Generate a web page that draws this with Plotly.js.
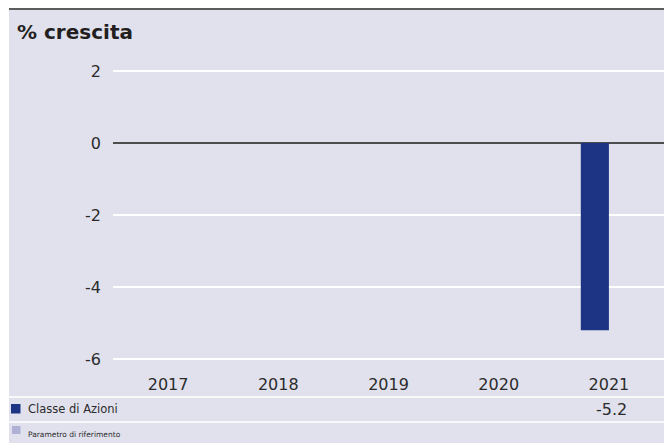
<!DOCTYPE html>
<html>
<head>
<meta charset="utf-8">
<script src="https://cdn.plot.ly/plotly-3.0.1.min.js"></script>
<style>
  html, body { margin: 0; padding: 0; background: #ffffff; }
  #chart { position: absolute; left: 9px; top: 8px; width: 655px; height: 433px; border-top: 2px solid #5c5c5c; }
</style>
</head>
<body>
<div id="chart"></div>
<script>
// ---- data ----
const years = ['2017', '2018', '2019', '2020', '2021'];
const classeDiAzioni = [0, 0, 0, 0, -5.2];
const parametroRiferimento = [null, null, null, null, null];
const seriesNames = ['Classe di Azioni', 'Parametro di riferimento'];
const yTicks = [2, 0, -2, -4, -6];
const titleText = '% crescita';

// ---- layout constants (pixels, relative to page) ----
const DIV_LEFT = 9, DIV_TOP = 10, W = 655, H = 433;
const M = { l: 104, r: 0, t: 60, b: 83 };
const plotL = DIV_LEFT + M.l, plotW = W - M.l - M.r;
const plotT = DIV_TOP + M.t, plotH = H - M.t - M.b;
const px = x => (x - plotL) / plotW;
const py = y => (plotT + plotH - y) / plotH;

const NAVY = '#1c3483';
const LIGHT = '#aeb0d6';
const BG = '#e1e1ee';
const TXT = '#2b2b2b';
const FONT = 'DejaVu Sans, Verdana, sans-serif';

const traces = [
  { type: 'bar', x: years, y: classeDiAzioni, name: seriesNames[0],
    marker: { color: NAVY }, hoverinfo: 'skip' },
  { type: 'bar', x: years, y: parametroRiferimento, name: seriesNames[1],
    marker: { color: LIGHT }, hoverinfo: 'skip' }
];

const lastIdx = classeDiAzioni.length - 1;

const layout = {
  width: W, height: H,
  margin: M,
  paper_bgcolor: BG, plot_bgcolor: BG,
  showlegend: false,
  barmode: 'group', bargap: 0.49, bargroupgap: 0,
  font: { family: FONT, color: TXT, size: 16 },
  xaxis: {
    type: 'category', categoryorder: 'array', categoryarray: years,
    range: [-0.5, years.length - 0.5], autorange: false,
    showgrid: false, zeroline: false, showline: false,
    ticks: '', ticklabelstandoff: 13,
    tickfont: { family: FONT, size: 16, color: TXT }
  },
  yaxis: {
    range: [-6.03, 2.03], autorange: false, tickvals: yTicks, ticktext: yTicks.map(String),
    showgrid: true, gridcolor: '#ffffff', gridwidth: 1.3,
    zeroline: true, zerolinecolor: '#4d4d4d', zerolinewidth: 1.6,
    showline: false, ticks: '', ticklabelstandoff: 11,
    tickfont: { family: FONT, size: 16, color: TXT }
  },
  shapes: [
    { type: 'line', xref: 'paper', yref: 'paper', x0: px(9), x1: px(664), y0: py(397), y1: py(397),
      line: { color: '#ffffff', width: 1.5 } },
    { type: 'line', xref: 'paper', yref: 'paper', x0: px(9), x1: px(664), y0: py(422), y1: py(422),
      line: { color: '#ffffff', width: 1.5 } },
    { type: 'rect', xref: 'paper', yref: 'paper', x0: px(11), x1: px(20.5), y0: py(404), y1: py(413.5),
      fillcolor: NAVY, line: { width: 0 } },
    { type: 'rect', xref: 'paper', yref: 'paper', x0: px(12), x1: px(20.5), y0: py(426), y1: py(434),
      fillcolor: LIGHT, line: { width: 0 } }
  ],
  annotations: [
    { text: '<b>' + titleText + '</b>', xref: 'paper', yref: 'paper', x: px(15), y: py(32),
      xanchor: 'left', yanchor: 'middle', showarrow: false,
      font: { family: FONT, size: 20, color: '#231f20' } },
    { text: seriesNames[0], xref: 'paper', yref: 'paper', x: px(26), y: py(409),
      xanchor: 'left', yanchor: 'middle', showarrow: false,
      font: { family: FONT, size: 11.5, color: TXT } },
    { text: seriesNames[1], xref: 'paper', yref: 'paper', x: px(25.5), y: py(434),
      xanchor: 'left', yanchor: 'middle', showarrow: false,
      font: { family: FONT, size: 7.5, color: TXT } },
    { text: String(classeDiAzioni[lastIdx]), xref: 'x', yref: 'paper', x: lastIdx, y: py(409),
      xanchor: 'center', yanchor: 'middle', xshift: 3, showarrow: false,
      font: { family: FONT, size: 16, color: TXT } }
  ]
};

Plotly.newPlot('chart', traces, layout, { displayModeBar: false, staticPlot: true });
</script>
</body>
</html>
